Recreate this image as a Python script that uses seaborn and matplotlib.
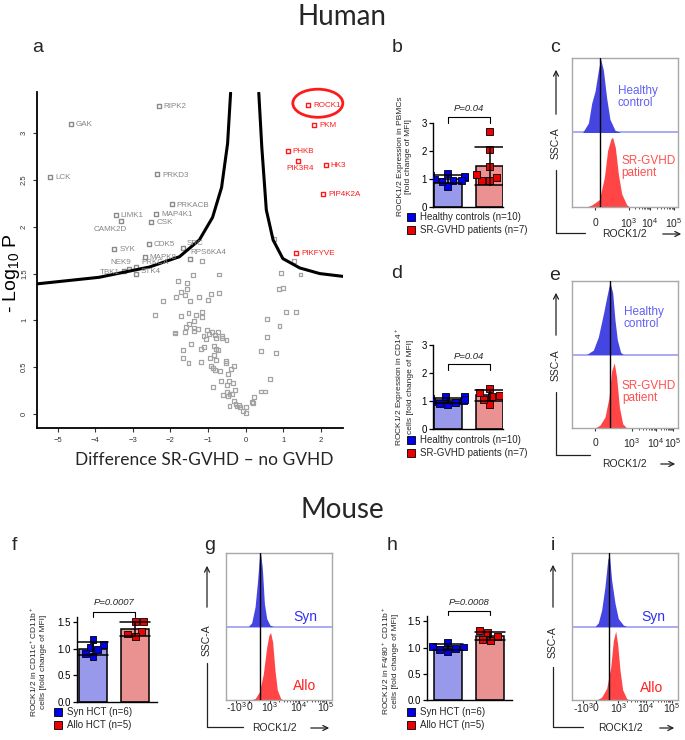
import numpy as np
import pandas as pd
import matplotlib
matplotlib.use('Agg')
import matplotlib.pyplot as plt
import seaborn as sns
from matplotlib.lines import Line2D
from matplotlib.patches import Ellipse, FancyArrowPatch

sns.set_theme(style='white')
plt.rcParams['font.family'] = ['Liberation Sans', 'DejaVu Sans']
plt.rcParams['mathtext.fontset'] = 'custom'
plt.rcParams['mathtext.rm'] = 'Liberation Sans'
plt.rcParams['mathtext.it'] = 'Liberation Sans:italic'

# ---------------- datos panel a (volcano) ----------------
gray_names = ['RIPK2', 'GAK', 'LCK', 'PRKD3', 'PRKACB', 'LIMK1', 'MAP4K1', 'CAMK2D', 'CSK',
              'CDK5', 'SRC', 'RPS6KA4', 'SYK', 'MAPK8', 'NEK9', 'PRKCA', 'TBK1', 'STK4']
gray_x = [-2.31, -4.65, -5.20, -2.35, -1.97, -3.45, -2.38, -3.31, -2.51,
          -2.58, -1.67, -1.49, -3.49, -2.68, -3.11, -2.91, -3.23, -2.91]
gray_y = [3.29, 3.10, 2.53, 2.56, 2.24, 2.13, 2.14, 2.06, 2.05,
          1.82, 1.77, 1.66, 1.76, 1.68, 1.55, 1.57, 1.53, 1.50]

red_names = ['ROCK1', 'PKM', 'PHKB', 'PIK3R4', 'HK3', 'PIP4K2A', 'PIKFYVE']
red_x = [1.67, 1.82, 1.12, 1.40, 2.13, 2.06, 1.35]
red_y = [3.30, 3.09, 2.81, 2.70, 2.66, 2.35, 1.72]

bg_points = [(0.75, 1.87), (-1.16, 1.63), (1.29, 1.63), (-0.72, 1.49), (0.93, 1.51), (1.46, 1.49),
             (-1.40, 1.48), (-1.80, 1.42), (-1.57, 1.40), (-1.56, 1.34), (-1.72, 1.30), (-1.61, 1.27),
             (-1.85, 1.25), (-2.21, 1.21), (-1.48, 1.21), (-1.24, 1.25), (-1.01, 1.22), (-0.91, 1.28),
             (-0.72, 1.29), (0.89, 1.34), (0.99, 1.35), (-2.41, 1.06), (-1.73, 1.05), (-1.52, 1.08),
             (-1.33, 1.06), (-1.16, 1.09), (-1.15, 1.04), (1.08, 1.09), (1.35, 1.09), (0.56, 1.01),
             (-1.38, 0.99), (-1.59, 0.93), (-1.50, 0.96), (-1.38, 0.92), (-1.26, 0.91), (-1.38, 0.89),
             (-1.88, 0.87), (-1.89, 0.86), (-1.61, 0.88), (-1.02, 0.90), (-0.89, 0.88), (-0.74, 0.88),
             (-0.98, 0.85), (-1.12, 0.83), (-1.05, 0.80), (-0.81, 0.84), (-0.62, 0.83), (-0.78, 0.81),
             (-0.63, 0.81), (-0.51, 0.79), (0.90, 0.94), (0.57, 0.82), (-1.45, 0.75), (-1.11, 0.72),
             (-0.84, 0.73), (-1.66, 0.68), (-1.18, 0.69), (-0.80, 0.69), (-0.73, 0.68), (0.41, 0.67),
             (0.82, 0.65), (-0.83, 0.63), (-1.66, 0.60), (-0.94, 0.60), (-0.80, 0.58), (-0.52, 0.57),
             (-0.52, 0.54), (-1.52, 0.54), (-1.18, 0.56), (-0.31, 0.51), (-0.92, 0.51), (-0.87, 0.49),
             (-0.82, 0.47), (-0.68, 0.46), (-0.40, 0.48), (-0.48, 0.43), (0.66, 0.37), (-0.65, 0.35),
             (-0.45, 0.35), (-0.49, 0.31), (-0.33, 0.33), (-0.86, 0.29), (-0.28, 0.26), (0.40, 0.24),
             (0.52, 0.24), (-0.50, 0.23), (-0.43, 0.21), (-0.59, 0.20), (-0.47, 0.19), (-0.36, 0.21),
             (0.23, 0.18), (0.17, 0.13), (0.20, 0.12), (-0.32, 0.14), (-0.27, 0.11), (-0.23, 0.08),
             (-0.18, 0.10), (-0.43, 0.09), (-0.16, 0.07), (0.02, 0.07), (-0.07, 0.03), (0.00, 0.01)]
bg_x = [p[0] for p in bg_points]
bg_y = [p[1] for p in bg_points]

# curvas de corte
curve_left_x = [-5.55, -3.9, -2.56, -1.76, -1.23, -0.88, -0.64, -0.48, -0.40]
curve_left_y = [1.39, 1.46, 1.57, 1.68, 1.86, 2.10, 2.42, 2.89, 3.43]
curve_right_x = [0.35, 0.43, 0.55, 0.73, 0.99, 1.44, 1.97, 2.59]
curve_right_y = [3.43, 2.85, 2.18, 1.86, 1.66, 1.56, 1.50, 1.47]

# ---------------- datos paneles de barras ----------------
human_groups = ['Healthy controls (n=10)', 'SR-GVHD patients (n=7)']
mouse_groups = ['Syn HCT (n=6)', 'Allo HCT (n=5)']
b_healthy = [0.72, 1.05, 1.18, 1.10, 1.08, 1.00, 0.93, 0.95, 0.92, 1.12]
b_gvhd = [2.70, 2.05, 1.45, 1.07, 0.93, 1.15, 0.93]
d_healthy = [1.15, 1.15, 1.10, 1.00, 1.05, 0.95, 0.90, 0.88, 0.98, 1.02]
d_gvhd = [1.35, 1.46, 1.20, 1.15, 0.87, 1.31, 1.07]
f_syn = [0.86, 1.17, 1.09, 0.98, 1.03, 0.91]
f_allo = [1.51, 1.51, 1.33, 1.24, 1.28]
h_syn = [1.02, 0.93, 1.01, 0.98, 1.10, 0.97]
h_allo = [1.32, 1.14, 1.28, 1.21, 1.16]

# ---------------- datos citometria (perfiles leidos) ----------------
c_blue_x = [10, 15.5, 18.6, 21.7, 24.8, 27, 29.6, 32.7, 35.8, 40.6, 46]
c_blue_h = [0, 0.13, 0.4, 0.56, 0.84, 1.0, 0.85, 0.47, 0.18, 0.03, 0]
c_red_x = [13.8, 18.9, 25.8, 30.5, 33.6, 36.8, 38.3, 40.9, 43.7, 46.9, 51.6, 54.7]
c_red_h = [0, 0.03, 0.1, 0.4, 0.77, 0.93, 0.95, 0.81, 0.45, 0.18, 0.03, 0]
e_blue_x = [13.8, 20.1, 24.8, 29.6, 33.3, 35.8, 38.4, 40.6, 42.8, 45.9, 48.4]
e_blue_h = [0, 0.06, 0.24, 0.56, 0.83, 1.0, 0.85, 0.47, 0.2, 0.03, 0]
e_red_x = [21.7, 26.4, 31.1, 34.9, 37.4, 39.9, 42.1, 44.7, 47.8, 51.6]
e_red_h = [0, 0.04, 0.15, 0.42, 0.79, 0.9, 0.7, 0.29, 0.06, 0]
g_blue_x = [21.1, 24.2, 27.4, 29.6, 31.5, 32.7, 34.3, 36.2, 38.4, 41.5, 44.7]
g_blue_h = [0, 0.05, 0.27, 0.6, 0.95, 1.0, 0.8, 0.32, 0.11, 0.02, 0]
g_red_x = [22.6, 27.4, 31.5, 35.2, 38.4, 40.6, 42.1, 44.0, 46.2, 48.4, 51.6, 54.1]
g_red_h = [0, 0.02, 0.11, 0.36, 0.73, 0.9, 0.93, 0.8, 0.41, 0.14, 0.02, 0]
i_blue_x = [21.7, 24.8, 28, 31.1, 33.7, 35.2, 37.4, 40.6, 43.7, 48.4, 51.6]
i_blue_h = [0, 0.05, 0.23, 0.55, 0.92, 1.0, 0.64, 0.32, 0.11, 0.02, 0]
i_red_x = [23.3, 28, 32.7, 36.5, 39, 41.2, 43.1, 45.3, 47.8, 51.6, 54.7]
i_red_h = [0, 0.04, 0.16, 0.45, 0.82, 0.95, 0.77, 0.41, 0.14, 0.02, 0]

human_ticks = ['0', '$10^3$', '$10^4$', '$10^5$']
mouse_ticks = ['-$10^3$', '0', '$10^3$', '$10^4$', '$10^5$']

# colores
gray_pt = '#a3a3a3'
gray_lab = '#858585'
red_pt = '#ff1a1a'
bar_cols = ['#8c8cf8', '#f98383']
pt_cols = ['#0000ee', '#ee0000']
flow_blue = '#4545e2'
flow_red = '#ff4545'

W, H = 685, 740
fig = plt.figure(figsize=(W / 100, H / 100), dpi=100)


def box_axes(l, t, r, b):
    return fig.add_axes([l / W, 1 - b / H, (r - l) / W, (b - t) / H])


def put_text(x, y, s, **kw):
    fig.text(x / W, 1 - y / H, s, **kw)


def fig_line(xs, ys, **kw):
    fig.add_artist(Line2D([x / W for x in xs], [1 - y / H for y in ys],
                          transform=fig.transFigure, color='#222222', lw=0.9, **kw))


def fig_arrow(x0, y0, x1, y1):
    fig.add_artist(FancyArrowPatch((x0 / W, 1 - y0 / H), (x1 / W, 1 - y1 / H),
                                   transform=fig.transFigure, arrowstyle='->',
                                   mutation_scale=9, lw=0.9, color='#222222'))


# ================= panel a =================
ax = box_axes(37, 92, 343, 428)
ax.scatter(bg_x, bg_y, marker='s', s=8, facecolors='none', edgecolors=gray_pt, linewidths=0.9, zorder=2)
ax.scatter(gray_x, gray_y, marker='s', s=8, facecolors='none', edgecolors='#8a8a8a', linewidths=1.0, zorder=2)
ax.scatter(red_x, red_y, marker='s', s=8, facecolors='none', edgecolors=red_pt, linewidths=1.0, zorder=2)
sns.lineplot(x=curve_left_x, y=curve_left_y, sort=False, color='black', lw=2.2, ax=ax)
sns.lineplot(x=curve_right_x, y=curve_right_y, sort=False, color='black', lw=2.2, ax=ax)

label_off = {'CAMK2D': (-8, -6, 'center'), 'NEK9': (-6, 4.6, 'center'), 'TBK1': (-3.5, -1, 'right'),
             'PRKCA': (3.4, 2.9, 'left'), 'STK4': (3.4, 1.7, 'left'), 'RPS6KA4': (0.5, 4.3, 'left'),
             'SRC': (2.4, 3.4, 'left'), 'PIK3R4': (1, -5.5, 'center')}
for names, xs, ys, col in [(gray_names, gray_x, gray_y, gray_lab), (red_names, red_x, red_y, red_pt)]:
    for n, x, y in zip(names, xs, ys):
        dx, dy, ha = label_off.get(n, (3.5, -0.5, 'left'))
        ax.annotate(n, (x, y), xytext=(dx, dy), textcoords='offset points', ha=ha, va='center',
                    fontsize=5.8, color=col, annotation_clip=False)
ax.add_patch(Ellipse((1.92, 3.32), 1.33, 0.30, fill=False, ec=red_pt, lw=2, clip_on=False))

ax.set_xlim(-5.55, 2.59)
ax.set_ylim(-0.15, 3.44)
ax.set_xticks(range(-5, 3))
ax.set_yticks([0, 0.5, 1, 1.5, 2, 2.5, 3])
ax.set_yticklabels(['0', '0.5', '1', '1.5', '2', '2.5', '3'])
ax.tick_params(axis='both', labelsize=5.5, length=3, width=0.8, left=True, bottom=True, colors='#333333')
for lab in ax.get_yticklabels():
    lab.set_rotation(90)
    lab.set_va('center')
sns.despine(ax=ax)
for s in ['left', 'bottom']:
    ax.spines[s].set_color('black')
    ax.spines[s].set_linewidth(1.3)
ax.set_ylabel('- Log$_{10}$ P', fontsize=14, color='black')
ax.yaxis.set_label_coords(-0.05, 0.46)
put_text(204, 460, 'Difference SR-GVHD \u2013 no GVHD', fontsize=12.5, family='Lato', ha='center', va='center')


# ================= barras =================
def bar_panel(rect, names, vals, xlim, ylim, yticks, ytlabs, ylabel, lab_x, lab_y,
              p_text, br_lo, br_hi, p_y, leg_xy):
    ax = box_axes(*rect)
    df = pd.DataFrame({'group': [names[0]] * len(vals[0]) + [names[1]] * len(vals[1]),
                       'value': list(vals[0]) + list(vals[1])})
    sns.barplot(data=df, x='group', y='value', hue='group', palette=bar_cols, errorbar='sd',
                capsize=0.7, err_kws={'color': 'black', 'linewidth': 1.1}, edgecolor='black',
                linewidth=1.1, width=0.66, legend=False, ax=ax)
    sns.swarmplot(data=df, x='group', y='value', hue='group', palette=pt_cols, marker='s', size=5,
                  edgecolor='black', linewidth=0.6, legend=False, ax=ax, zorder=3)
    for ln in ax.lines:
        ln.set_zorder(4)
    ax.set_xlim(*xlim)
    ax.set_ylim(*ylim)
    ax.set_xticks([])
    ax.set_xlabel('')
    ax.set_yticks(yticks)
    ax.set_yticklabels(ytlabs)
    ax.tick_params(axis='y', labelsize=7, length=3, width=0.9, left=True, pad=1.5, colors='black')
    sns.despine(ax=ax)
    for s in ['left', 'bottom']:
        ax.spines[s].set_color('black')
        ax.spines[s].set_linewidth(1)
    ax.set_ylabel(ylabel, fontsize=6, linespacing=1.25)
    ax.yaxis.set_label_coords(lab_x, lab_y)
    ax.plot([0, 0, 1, 1], [br_lo, br_hi, br_hi, br_lo], color='black', lw=0.8, clip_on=False)
    ax.text(0.5, p_y, p_text, ha='center', va='center', fontsize=6.8, style='italic', clip_on=False)
    handles = [Line2D([], [], marker='s', ls='', mfc=pt_cols[k], mec='black', mew=0.6, ms=5.5,
                      label=names[k]) for k in range(2)]
    fig.legend(handles=handles, loc='upper left', bbox_to_anchor=(leg_xy[0] / W, 1 - leg_xy[1] / H),
               frameon=False, fontsize=7, handlelength=0.6, handletextpad=0.6, labelspacing=0.35,
               borderpad=0, borderaxespad=0)
    return ax


bar_panel((433, 123, 503, 207), human_groups, [b_healthy, b_gvhd], (-0.35, 1.32), (0, 3),
          [0, 1, 2, 3], ['0', '1', '2', '3'],
          'ROCK1/2 Expression in PBMCs\n[fold change of MFI]', -0.30, 0.6,
          'P=0.04', 2.99, 3.22, 3.53, (408, 212))
bar_panel((433, 345, 503, 429), human_groups, [d_healthy, d_gvhd], (-0.35, 1.32), (0, 3),
          [0, 1, 2, 3], ['0', '1', '2', '3'],
          'ROCK1/2 Expression in CD14$^+$\ncells [fold change of MFI]', -0.27, 0.5,
          'P=0.04', 2.1, 2.32, 2.6, (408, 435))
bar_panel((77, 617, 157, 702), mouse_groups, [f_syn, f_allo], (-0.38, 1.52), (0, 1.6),
          [0, 0.5, 1, 1.5], ['0.0', '0.5', '1.0', '1.5'],
          'ROCK1/2 in CD11c$^+$CD11b$^+$\ncells [fold change of MFI]', -0.375, 0.47,
          'P=0.0007', 1.60, 1.70, 1.87, (55, 707))
bar_panel((427, 616, 512, 700), mouse_groups, [h_syn, h_allo], (-0.49, 1.51), (0, 1.6),
          [0, 0.5, 1, 1.5], ['0.0', '0.5', '1.0', '1.5'],
          'ROCK1/2 in F4/80$^+$ CD11b$^+$\ncells [fold change of MFI]', -0.33, 0.47,
          'P=0.0008', 1.61, 1.69, 1.85, (408, 707))


# ================= citometria =================
def flow_panel(box, top, bottom, vline, top_lab, bot_lab, tick_pos, tick_labs, tick_y, geo):
    l, t, r, b = box
    ax = box_axes(l, t, r, b)
    ax.set_xlim(0, 100)
    ax.set_ylim(0, 2)
    ax.fill_between(top[0], 1, [1 + 0.985 * h for h in top[1]], color=flow_blue, lw=0, zorder=2)
    ax.fill_between(bottom[0], 0, [0.985 * h for h in bottom[1]], color=flow_red, lw=0, zorder=2)
    ax.axhline(1, color='#9c9cf2', lw=1.2, zorder=1)
    ax.axvline(vline, color='black', lw=1, zorder=3)
    for s in ax.spines.values():
        s.set_visible(True)
        s.set_color('#a8a8a8')
        s.set_linewidth(1)
    ax.set_yticks([])
    ax.set_xticks(tick_pos)
    ax.set_xticklabels([])
    dec = [p for p, s in zip(tick_pos, tick_labs) if s.startswith('$10')]
    minor = []
    for a0, a1 in zip(dec[:-1], dec[1:]):
        minor += [a0 + (a1 - a0) * np.log10(k) for k in range(2, 10)]
    ax.set_xticks(minor, minor=True)
    ax.tick_params(axis='x', which='major', direction='out', length=2.5, width=0.8,
                   color='#333333', bottom=True)
    ax.tick_params(axis='x', which='minor', direction='out', length=1.5, width=0.6,
                   color='#333333', bottom=True)
    for p, s in zip(tick_pos, tick_labs):
        ax.text(p, (b - tick_y) / (b - t), s, transform=ax.get_xaxis_transform(),
                ha='center', va='center', fontsize=7.5)
    for txt, x, y, col, fs in [top_lab, bot_lab]:
        put_text(x, y, txt, color=col, fontsize=fs, ha='left', va='center', linespacing=1.1)
    vx, tip, a_from, ssc_y, l_from, corner, cx, rk_x, rk_y, ar0, ar1 = geo
    fig_arrow(vx, a_from, vx, tip)
    put_text(vx, ssc_y, 'SSC-A', rotation=90, fontsize=7.5, ha='center', va='center')
    fig_line([vx, vx, cx], [l_from, corner, corner])
    put_text(rk_x, rk_y, 'ROCK1/2', fontsize=7.5, ha='center', va='center')
    fig_arrow(ar0, rk_y, ar1, rk_y)


flow_panel((572, 58, 678, 207), (c_blue_x, c_blue_h), (c_red_x, c_red_h), 26.4,
           ('Healthy\ncontrol', 618, 97, '#6060f5', 8.5), ('SR-GVHD\npatient', 621, 167, '#ff5050', 8.5),
           [21.7, 53.8, 73.6, 96.2], human_ticks, 223,
           (556, 67, 117, 143, 170, 233, 585, 624, 234, 660, 684))
flow_panel((572, 281, 678, 428), (e_blue_x, e_blue_h), (e_red_x, e_red_h), 35.8,
           ('Healthy\ncontrol', 624, 318, '#6060f5', 8.5), ('SR-GVHD\npatient', 622, 392, '#ff5050', 8.5),
           [21.7, 56.3, 79.2, 95.3], human_ticks, 443,
           (556, 290, 338, 365, 392, 455, 590, 624, 464, 658, 678))
flow_panel((226, 553, 332, 700), (g_blue_x, g_blue_h), (g_red_x, g_red_h), 32.1,
           ('Syn', 293, 617, '#2f2ff0', 10), ('Allo', 293, 686, '#ff2020', 10),
           [9.5, 21.7, 41.5, 68.9, 94.0], mouse_ticks, 707,
           (207, 563, 610, 640, 663, 727, 243, 274, 728, 308, 332))
flow_panel((572, 553, 678, 700), (i_blue_x, i_blue_h), (i_red_x, i_red_h), 34.9,
           ('Syn', 641, 617, '#2f2ff0', 10), ('Allo', 640, 688, '#ff2020', 10),
           [10.4, 22.3, 43.7, 69.5, 94.0], mouse_ticks, 708,
           (553, 562, 610, 642, 667, 727, 583, 620, 728, 657, 677))

# ================= titulos y letras =================
put_text(342, 17, 'Human', fontsize=20, family='Lato', ha='center', va='center')
put_text(342, 510, 'Mouse', fontsize=20, family='Lato', ha='center', va='center')
for s, x, y in [('a', 38, 47), ('b', 397, 47), ('c', 555, 48), ('d', 397, 274), ('e', 555, 275),
                ('f', 14, 545), ('g', 210, 545), ('h', 392, 545), ('i', 553, 545)]:
    put_text(x, y, s, fontsize=14, ha='center', va='center')

fig.savefig('out.png', dpi=100)
